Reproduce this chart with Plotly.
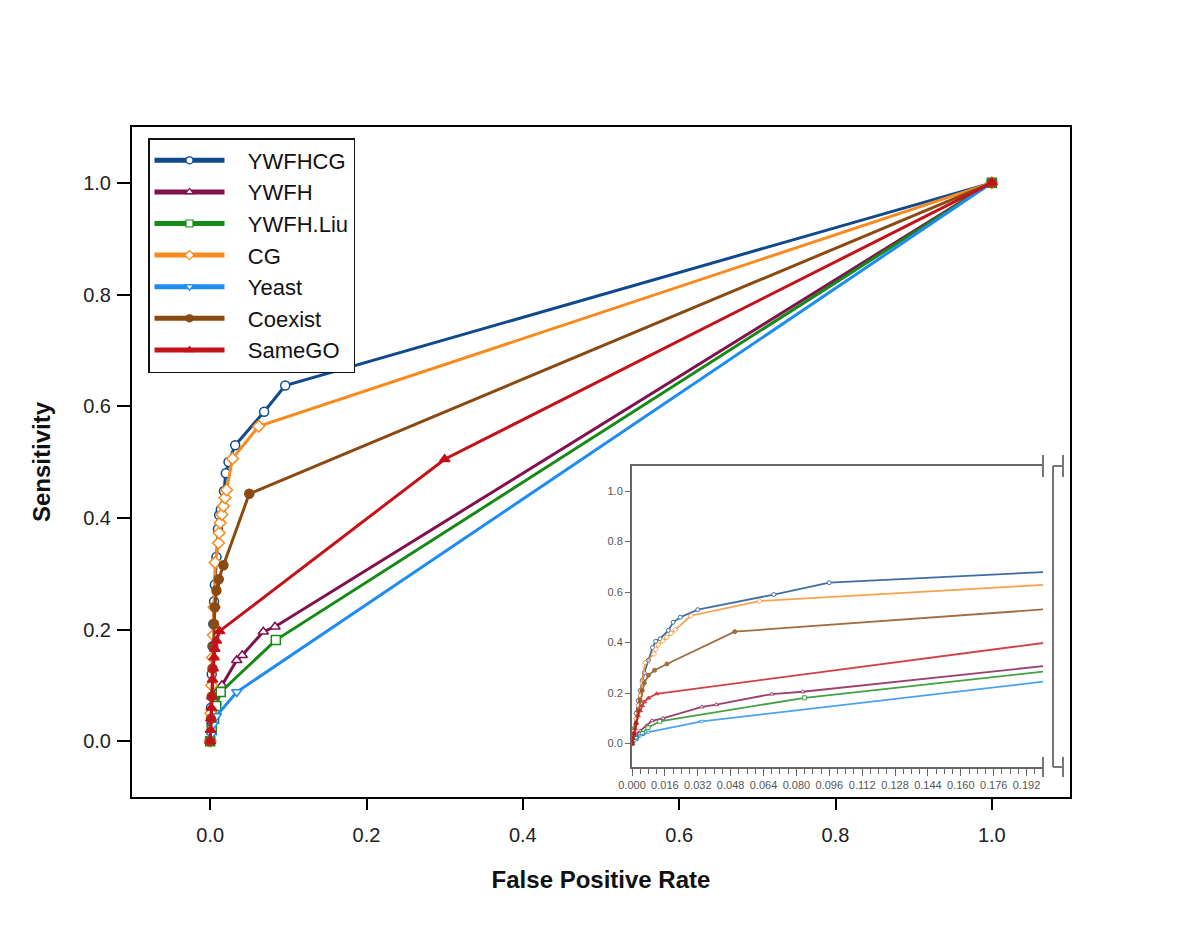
import plotly.graph_objects as go

# ---------------- data ----------------
names = ["YWFHCG", "YWFH", "YWFH.Liu", "CG", "Yeast", "Coexist", "SameGO"]

fpr_ywfhcg = [0, 0.001, 0.002, 0.003, 0.004, 0.005, 0.006, 0.008, 0.010, 0.0115, 0.0137, 0.0177, 0.020, 0.0235, 0.032, 0.069, 0.096, 1.0]
sens_ywfhcg = [0, 0.06, 0.12, 0.17, 0.21, 0.25, 0.28, 0.33, 0.38, 0.405, 0.415, 0.448, 0.48, 0.50, 0.53, 0.59, 0.637, 1.0]

fpr_ywfh = [0, 0.001, 0.002, 0.004, 0.007, 0.0097, 0.015, 0.034, 0.041, 0.068, 0.083, 1.0]
sens_ywfh = [0, 0.02, 0.035, 0.05, 0.07, 0.09, 0.10, 0.145, 0.154, 0.196, 0.205, 1.0]

fpr_liu = [0, 0.002, 0.005, 0.0078, 0.0135, 0.084, 1.0]
sens_liu = [0, 0.02, 0.04, 0.063, 0.088, 0.181, 1.0]

fpr_cg = [0, 0.001, 0.002, 0.003, 0.004, 0.005, 0.0064, 0.0107, 0.0115, 0.0128, 0.015, 0.017, 0.019, 0.021, 0.0286, 0.062, 1.0]
sens_cg = [0, 0.05, 0.10, 0.15, 0.19, 0.24, 0.32, 0.355, 0.373, 0.391, 0.406, 0.421, 0.436, 0.45, 0.506, 0.564, 1.0]

fpr_yeast = [0, 0.0015, 0.004, 0.008, 0.034, 1.0]
sens_yeast = [0, 0.012, 0.03, 0.045, 0.088, 1.0]

fpr_coexist = [0, 0.001, 0.002, 0.003, 0.004, 0.005, 0.006, 0.008, 0.011, 0.017, 0.050, 1.0]
sens_coexist = [0, 0.04, 0.08, 0.13, 0.17, 0.21, 0.24, 0.27, 0.29, 0.315, 0.443, 1.0]

fpr_samego = [0, 0.0005, 0.001, 0.0015, 0.002, 0.003, 0.004, 0.005, 0.006, 0.008, 0.012, 0.30, 1.0]
sens_samego = [0, 0.02, 0.04, 0.06, 0.08, 0.11, 0.13, 0.15, 0.165, 0.18, 0.197, 0.505, 1.0]

fprs = [fpr_ywfhcg, fpr_ywfh, fpr_liu, fpr_cg, fpr_yeast, fpr_coexist, fpr_samego]
senss = [sens_ywfhcg, sens_ywfh, sens_liu, sens_cg, sens_yeast, sens_coexist, sens_samego]

colors = ["#114A8B", "#82124F", "#168A16", "#F98A1E", "#1E8CF0", "#8B4A12", "#C4121A"]
symbols = ["circle", "triangle-up", "square", "diamond", "triangle-down", "circle", "triangle-up"]
filled = [False, False, False, False, False, True, True]

main_ticks = [0.0, 0.2, 0.4, 0.6, 0.8, 1.0]
inset_xticks = [round(0.016 * i, 3) for i in range(13)]
inset_yticks = [0.0, 0.2, 0.4, 0.6, 0.8, 1.0]

# ---------------- layout geometry ----------------
W, H = 1200, 925
BODY = 8  # page body margin of the browser
# plot area as seen in the screenshot
PL, PR, PT, PB = 132, 1070, 127, 797
PW, PH = PR - PL, PB - PT
ML, MT = PL - BODY, PT - BODY
MR, MB = W - ML - PW, H - MT - PH


def px(xp):
    return (xp - PL) / PW


def py(yp):
    return (PB - yp) / PH


FONT = "Liberation Sans, Arial, sans-serif"
PAD = "\u00a0\u00a0\u00a0"

fig = go.Figure()

# main curves
for n, x, y, c, s, f in zip(names, fprs, senss, colors, symbols, filled):
    fig.add_trace(go.Scatter(
        x=x, y=y, mode="lines+markers", name=n, showlegend=False,
        line=dict(color=c, width=3),
        marker=dict(symbol=s, size=9, color=c if f else "white",
                    line=dict(color=c, width=1.5)),
        xaxis="x", yaxis="y"))

# legend entries (thick lines)
for n, c, s, f in zip(names, colors, symbols, filled):
    fig.add_trace(go.Scatter(
        x=[None], y=[None], mode="lines+markers", name=PAD + n, showlegend=True,
        line=dict(color=c, width=5),
        marker=dict(symbol=s, size=7, color=c if f else "white",
                    line=dict(color=c, width=1.2)),
        xaxis="x", yaxis="y"))

# inset curves
for n, x, y, c, s, f in zip(names, fprs, senss, colors, symbols, filled):
    fig.add_trace(go.Scatter(
        x=x, y=y, mode="lines+markers", name=n, showlegend=False,
        opacity=0.8,
        line=dict(color=c, width=1.8),
        marker=dict(symbol=s, size=4, color=c if f else "white",
                    line=dict(color=c, width=1)),
        xaxis="x2", yaxis="y2"))

fig.update_layout(
    width=W, height=H,
    margin=dict(l=ML, r=MR, t=MT, b=MB),
    paper_bgcolor="white", plot_bgcolor="rgba(0,0,0,0)",
    font=dict(family=FONT, color="#222"),
    showlegend=True,
    legend=dict(
        x=px(148), y=py(138), xanchor="left", yanchor="top",
        bgcolor="white", bordercolor="#111", borderwidth=1.5,
        font=dict(size=22, color="#111", family=FONT),
        itemwidth=70, tracegroupgap=0,
    ),
    xaxis=dict(
        domain=[0, 1], range=[-0.1, 1.1], tickvals=main_ticks, tickformat=".1f",
        showline=True, linecolor="black", linewidth=2, mirror=True,
        ticks="outside", ticklen=11, tickwidth=1.5, tickcolor="black",
        showgrid=False, zeroline=False, ticklabelstandoff=8,
        tickfont=dict(size=20, color="#222"),
        title=dict(text="False Positive Rate", standoff=26,
                   font=dict(size=24, weight="bold", color="#111")),
    ),
    yaxis=dict(
        domain=[0, 1], range=[-0.1, 1.1], tickvals=main_ticks, tickformat=".1f",
        showline=True, linecolor="black", linewidth=2, mirror=True,
        ticks="outside", ticklen=13, tickwidth=1.5, tickcolor="black",
        showgrid=False, zeroline=False, ticklabelstandoff=2,
        tickfont=dict(size=20, color="#222"),
        title=dict(text="Sensitivity", standoff=26,
                   font=dict(size=24, weight="bold", color="#111")),
    ),
    xaxis2=dict(
        domain=[px(632), px(1043)], anchor="y2", range=[0, 0.2],
        tickvals=inset_xticks, tickformat=".3f",
        showline=True, linecolor="#666", linewidth=2, mirror=True,
        ticks="outside", ticklen=7, tickwidth=1, tickcolor="#666",
        minor=dict(dtick=0.004, ticks="outside", ticklen=5, tickcolor="#666", tickwidth=1),
        showgrid=False, zeroline=False,
        tickfont=dict(size=11, color="#555"),
    ),
    yaxis2=dict(
        domain=[py(767), py(466)], anchor="x2", range=[-0.093, 1.099],
        tickvals=inset_yticks, tickformat=".1f",
        showline=True, linecolor="#666", linewidth=2, mirror=False,
        ticks="outside", ticklen=5, tickwidth=1, tickcolor="#666",
        showgrid=False, zeroline=False,
        tickfont=dict(size=11, color="#555"),
    ),
)

# axis-break marks at the right side of the inset
gray = dict(color="#777", width=2)
segs = [
    (1043, 455, 1043, 477), (1043, 757, 1043, 777),
    (1053, 466, 1053, 767), (1053, 466, 1063, 466), (1053, 767, 1063, 767),
    (1063, 455, 1063, 477), (1063, 757, 1063, 777),
]
for x0, y0, x1, y1 in segs:
    fig.add_shape(type="line", xref="paper", yref="paper",
                  x0=px(x0), y0=py(y0), x1=px(x1), y1=py(y1), line=gray)

fig.write_html("out.html")
